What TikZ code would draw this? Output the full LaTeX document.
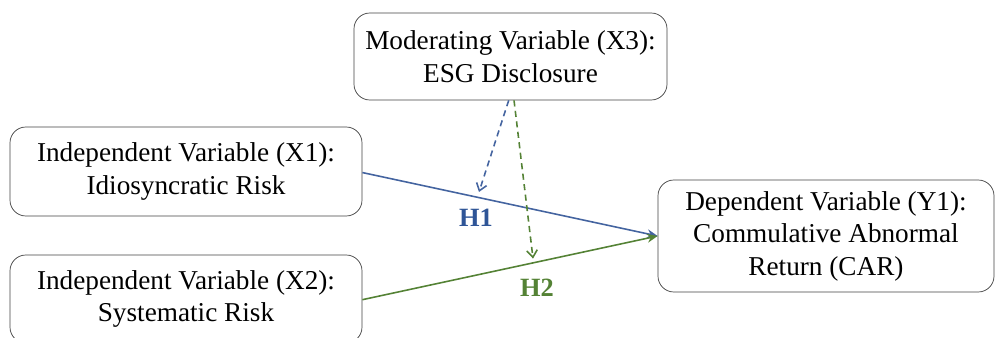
\documentclass[tikz,border=0pt]{standalone}
\usepackage{fontspec}
\setmainfont{Liberation Serif}
\usetikzlibrary{arrows.meta,calc}
\definecolor{hblue}{RGB}{47,85,151}
\definecolor{hgreen}{RGB}{84,130,53}
\definecolor{lblue}{RGB}{68,100,160}
\tikzset{
  varbox/.style={draw=black!75, rounded corners=9pt, align=center, inner sep=0pt, font=\fontsize{15.5}{18.5}\selectfont},
  path1/.style={draw=lblue, line width=0.9pt, -{Stealth[length=6pt,width=5pt]}},
  path2/.style={draw=hgreen, line width=0.9pt, -{Stealth[length=6pt,width=5pt]}},
  modline/.style={dashed, line width=0.9pt, dash pattern=on 3.5pt off 2.5pt, -{Straight Barb[length=4pt,width=6pt]}},
  hlabel/.style={font=\fontsize{15}{17}\selectfont\bfseries}
}
\begin{document}
\begin{tikzpicture}
  \useasboundingbox (0,0) rectangle (19.94,-6.76);
  % boxes
  \node[varbox, minimum width=6.26cm, minimum height=1.74cm] (mod) at (10.21,-1.13) {Moderating Variable (X3):\\ESG Disclosure};
  \node[varbox, minimum width=7.04cm, minimum height=1.78cm] (x1) at (3.72,-3.43) {Independent Variable (X1):\\Idiosyncratic Risk};
  \node[varbox, minimum width=7.04cm, minimum height=1.76cm] (x2) at (3.72,-5.98) {Independent Variable (X2):\\Systematic Risk};
  \node[varbox, minimum width=6.72cm, minimum height=2.24cm] (y1) at (16.52,-4.72) {Dependent Variable (Y1):\\Commulative Abnormal\\Return (CAR)};
  % direct effects
  \draw[path1] ([yshift=-0.6pt]x1.east) -- (y1.west);
  \draw[path2] ([yshift=-0.4pt]x2.east) -- (y1.west);
  % moderation
  \coordinate (m1) at ($(x1.east)!0.395!(y1.west)+(0,0.1)$);
  \coordinate (m2) at ($(x2.east)!0.578!(y1.west)+(0,0.08)$);
  \draw[modline, draw=lblue] ([xshift=-1pt]mod.south) -- (m1);
  \draw[modline, draw=hgreen] ([xshift=2pt]mod.south) -- (m2);
  \node[hlabel, text=hblue] (h1) at (9.52,-4.36) {H1};
  \node[hlabel, text=hgreen] (h2) at (10.74,-5.76) {H2};
\end{tikzpicture}
\end{document}
